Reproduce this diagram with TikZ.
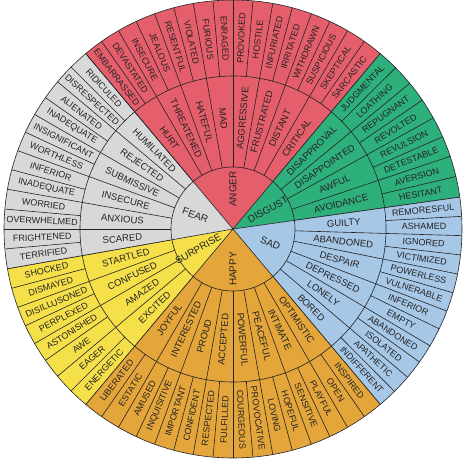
\documentclass[tikz,border=0pt]{standalone}
\usepackage{fontspec}
\setsansfont{Liberation Sans}
\usepackage{tikz}

\definecolor{angercol}{RGB}{229,94,108}
\definecolor{disgustcol}{RGB}{46,176,125}
\definecolor{sadcol}{RGB}{167,199,231}
\definecolor{happycol}{RGB}{228,166,58}
\definecolor{surprisecol}{RGB}{246,224,74}
\definecolor{fearcol}{RGB}{216,216,216}
\definecolor{inkcol}{RGB}{35,35,35}

\newcommand{\rin}{62pt}
\newcommand{\rmid}{153pt}
\newcommand{\rout}{229pt}

% #1 start, #2 end, #3 colour, #4 core word, #5/#6 middle ring, #7/#8 outer ring
\newcommand{\emosector}[8]{%
  \fill[#3] (0,0) -- (#1:\rout) arc[start angle=#1, end angle=#2, radius=\rout] -- cycle;
  \pgfmathsetmacro\amid{(#1+#2)/2}
  \pgfmathsetmacro\rot{\amid-180*ceil((\amid-90)/180)}
  \node[core, rotate=\rot] (#4) at (\amid:40pt) {#4};
  \pgfmathsetmacro\dm{(#2-#1)/#5}
  \foreach \word [count=\i] in {#6} {
    \pgfmathsetmacro\ang{#1+(\i-0.5)*\dm}
    \pgfmathsetmacro\rot{\ang-180*ceil((\ang-90)/180)}
    \node[midword, rotate=\rot] (#4-m\i) at (\ang:111pt) {\word};
    \pgfmathsetmacro\bnd{#1+\i*\dm}
    \draw[wheel] (\bnd:\rin) -- (\bnd:\rmid);
  }
  \pgfmathsetmacro\do{(#2-#1)/#7}
  \foreach \word [count=\i] in {#8} {
    \pgfmathsetmacro\ang{#1+(\i-0.5)*\do}
    \pgfmathsetmacro\rot{\ang-180*ceil((\ang-90)/180)}
    \node[outword, rotate=\rot] (#4-o\i) at (\ang:191pt) {\word};
    \pgfmathsetmacro\bnd{#1+\i*\do}
    \draw[wheel] (\bnd:\rmid) -- (\bnd:\rout);
  }
}

\begin{document}
\begin{tikzpicture}[
    wheel/.style={draw=inkcol, line width=0.6pt},
    core/.style={font=\sffamily\fontsize{10}{10}\selectfont, text=inkcol, inner sep=0pt},
    midword/.style={font=\sffamily\fontsize{9.5}{9.5}\selectfont, text=inkcol, inner sep=0pt},
    outword/.style={font=\sffamily\fontsize{9}{9}\selectfont, text=inkcol, inner sep=0pt}
  ]
  \useasboundingbox (-233pt,-229pt) rectangle (233pt,229pt);

  \emosector{130}{50}{angercol}{ANGER}{8}{HURT,THREATENED,HATEFUL,MAD,AGGRESSIVE,FRUSTRATED,DISTANT,CRITICAL}%
    {16}{EMBARRASSED,DEVASTATED,INSECURE,JEALOUS,RESENTFUL,VIOLATED,FURIOUS,ENRAGED,PROVOKED,HOSTILE,INFURIATED,IRRITATED,WITHDRAWN,SUSPICIOUS,SKEPTICAL,SARCASTIC}
  \emosector{50}{8}{disgustcol}{DISGUST}{4}{DISAPPROVAL,DISAPPOINTED,AWFUL,AVOIDANCE}%
    {8}{JUDGMENTAL,LOATHING,REPUGNANT,REVOLTED,REVULSION,DETESTABLE,AVERSION,HESITANT}
  \emosector{8}{-50}{sadcol}{SAD}{6}{GUILTY,ABANDONED,DESPAIR,DEPRESSED,LONELY,BORED}%
    {12}{REMORESFUL,ASHAMED,IGNORED,VICTIMIZED,POWERLESS,VULNERABLE,INFERIOR,EMPTY,ABANDONED,ISOLATED,APATHETIC,INDIFFERENT}
  \emosector{-50}{-130}{happycol}{HAPPY}{8}{OPTIMISTIC,INTIMATE,PEACEFUL,POWERFUL,ACCEPTED,PROUD,INTERESTED,JOYFUL}%
    {16}{INSPIRED,OPEN,PLAYFUL,SENSITIVE,HOPEFUL,LOVING,PROVOCATIVE,COURGEOUS,FULFILLED,RESPECTED,CONFIDENT,IMPORTANT,INQUISITIVE,AMUSED,ESTATIC,LIBERATED}
  \emosector{-130}{-170}{surprisecol}{SURPRISE}{4}{EXCITED,AMAZED,CONFUSED,STARTLED}%
    {8}{ENERGETIC,EAGER,AWE,ASTONISHED,PERPLEXED,DISILLUSONED,DISMAYED,SHOCKED}
  \emosector{-170}{-230}{fearcol}{FEAR}{6}{SCARED,ANXIOUS,INSECURE,SUBMISSIVE,REJECTED,HUMILIATED}%
    {12}{TERRIFIED,FRIGHTENED,OVERWHELMED,WORRIED,INADEQUATE,INFERIOR,WORTHLESS,INSIGNIFICANT,INADEQUATE,ALIENATED,DISRESPECTED,RIDICULED}

  % sector borders and rings
  \foreach \bnd in {130,50,8,-50,-130,-170}
    \draw[wheel] (0,0) -- (\bnd:\rout);
  \draw[wheel] (0,0) circle[radius=\rin];
  \draw[wheel] (0,0) circle[radius=\rmid];
  \draw[wheel] (0,0) circle[radius=\rout];
\end{tikzpicture}
\end{document}
